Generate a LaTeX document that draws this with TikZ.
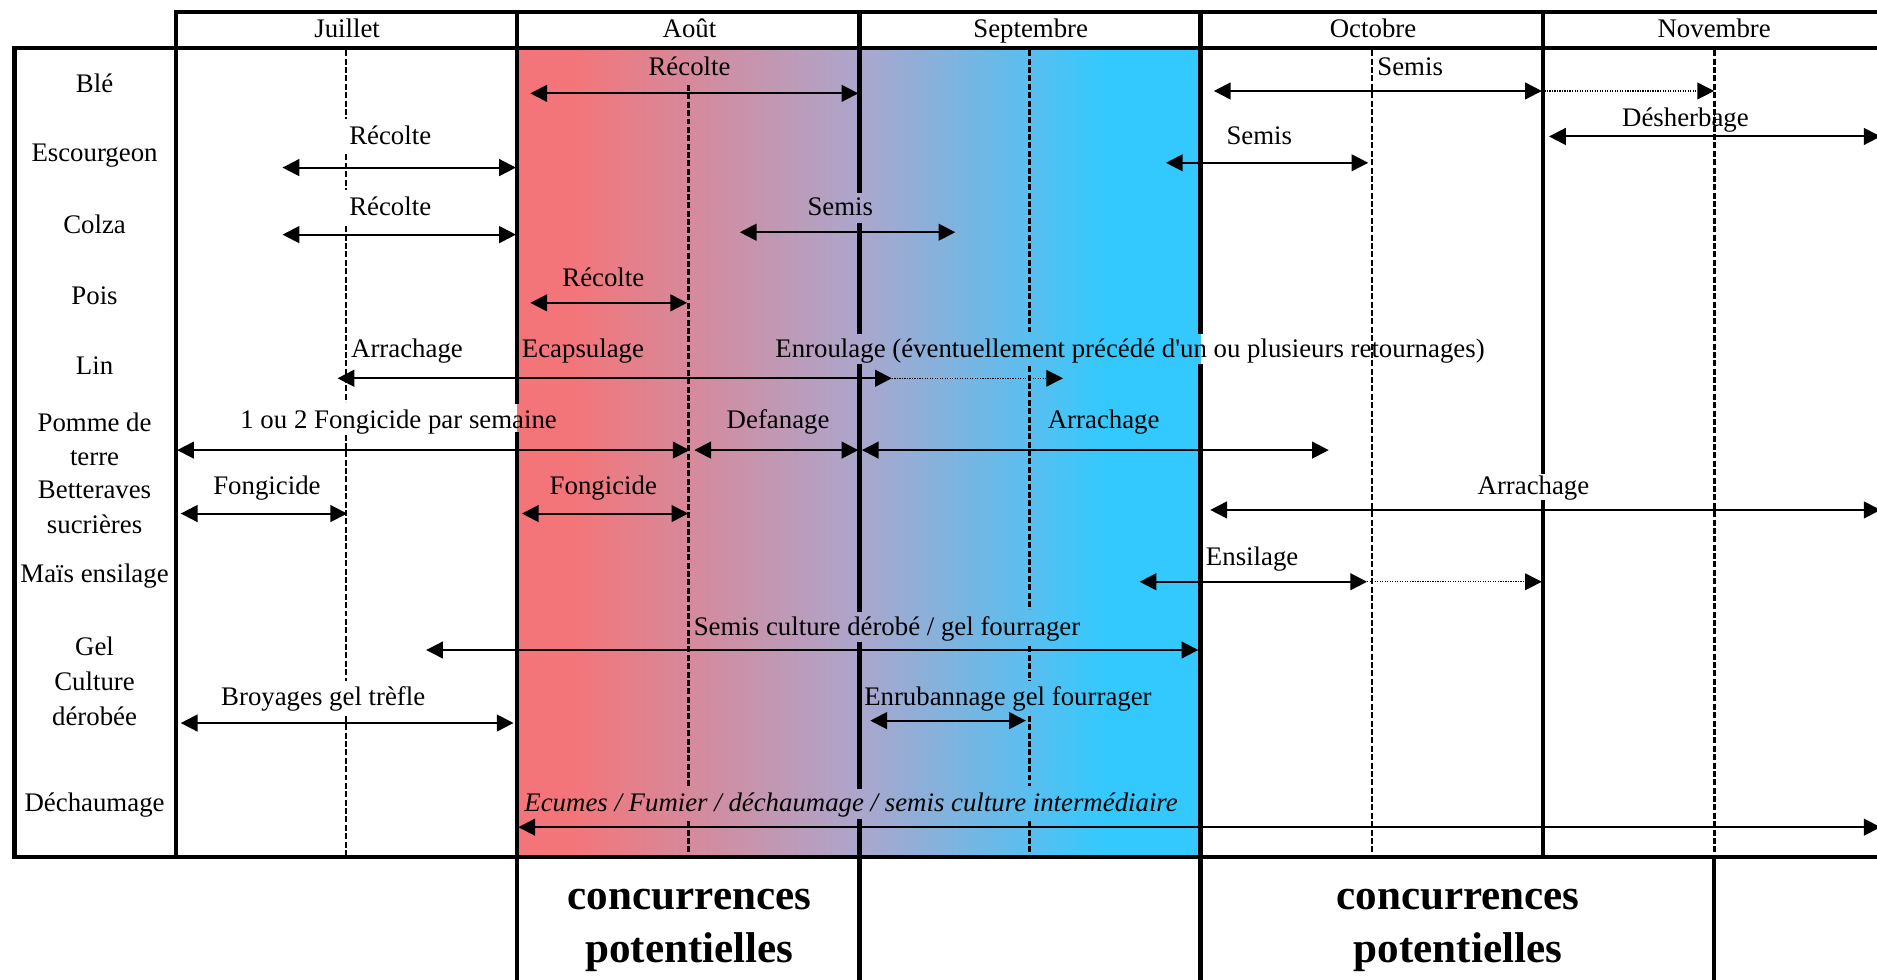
\documentclass[tikz,border=0pt]{standalone}
\usepackage{fontspec}
\setmainfont{Liberation Serif}
\usepackage{tikz}
\usetikzlibrary{arrows.meta}
\definecolor{aoutred}{RGB}{244,117,121}
\definecolor{septmauve}{RGB}{172,166,204}
\definecolor{octcyan}{RGB}{52,201,254}
\pgfdeclarehorizontalshading{concur}{100bp}{color(0bp)=(aoutred); color(29bp)=(aoutred); color(50bp)=(septmauve); color(68bp)=(octcyan); color(100bp)=(octcyan)}

\begin{document}
\begin{tikzpicture}[x=1pt, y=-1pt,
  lbl/.style={font=\fontsize{22.4}{29}\selectfont, inner sep=0pt, text height=15pt, text depth=5pt},
  row/.style={font=\fontsize{22.4}{29}\selectfont, inner sep=0pt, align=center},
  big/.style={font=\fontsize{36}{44}\selectfont\bfseries, inner sep=0pt, align=center},
  bord/.style={line width=3.8pt, line cap=rect},
  mi/.style={line width=2.2pt, dash pattern=on 5pt off 2pt},
  arr/.style={line width=1.7pt, {Triangle[length=14pt,width=14pt]}-{Triangle[length=14pt,width=14pt]}},
  suite/.style={line width=1pt, dash pattern=on 1pt off 1.1pt, -{Triangle[length=14pt,width=14pt]}}]
\useasboundingbox (0,0) rectangle (1568,818);
% periode des concurrences
\fill[shading=concur] (432,40) rectangle (1003,716);
% grille
\draw[line width=3.2pt] (147,10) -- (1572,10);
\draw[bord] (12,40) -- (1572,40); \draw[bord] (12,716) -- (1572,716);
\draw[bord] (12,40) -- (12,716) (147,10) -- (147,716);
\draw[bord] (432,10) -- (432,336) (432,363) -- (432,818);
\draw[bord] (718,10) -- (718,159) (718,188) -- (718,277) (718,306) -- (718,509) (718,538) -- (718,657) (718,686) -- (718,818);
\draw[bord] (1003,10) -- (1003,277) (1003,306) -- (1003,818);
\draw[bord] (1289,10) -- (1289,394) (1289,420) -- (1289,716);
\draw[bord] (1432,716) -- (1432,818);
\draw[mi] (289,42) -- (289,99) (289,129) -- (289,159) (289,189) -- (289,336) (289,363) -- (289,569) (289,598) -- (289,716);
\draw[mi] (575,71) -- (575,657) (575,686) -- (575,716);
\draw[mi] (860,42) -- (860,277) (860,306) -- (860,509) (860,540) -- (860,569) (860,598) -- (860,657) (860,686) -- (860,716);
\draw[mi] (1146,42) -- (1146,716);
\draw[mi] (1432,42) -- (1432,716);
% mois
\node[lbl] (juil) at (290,26) {Juillet};
\node[lbl] (aout) at (576,26) {Août};
\node[lbl] (sept) at (861,26) {Septembre};
\node[lbl] (oct) at (1147,26) {Octobre};
\node[lbl] (nov) at (1432,26) {Novembre};
% cultures
\node[lbl] (ble) at (79,72) {Blé};
\node[lbl] (esc) at (79,130) {Escourgeon};
\node[lbl] (colza) at (79,190) {Colza};
\node[lbl] (pois) at (79,249) {Pois};
\node[lbl] (lin) at (79,308) {Lin};
\node[row] (pdt) at (79,367) {Pomme de\\terre};
\node[row] (bett) at (79,424) {Betteraves\\sucrières};
\node[lbl] (mais) at (79,482) {Maïs ensilage};
\node[row] (gel) at (79,569) {Gel\\Culture\\dérobée};
\node[lbl] (dech) at (79,673) {Déchaumage};
% Blé
\coordinate (bleR1) at (443,78); \coordinate (bleR2) at (717,78);
\coordinate (bleS1) at (1014,76); \coordinate (bleS2) at (1288,76); \coordinate (bleS3) at (1432,76);
\draw[arr] (bleR1) -- (bleR2); \draw[arr] (bleS1) -- (bleS2); \draw[suite] (bleS2) -- (bleS3);
\node[lbl] (bleRt) at (576,58) {Récolte};
\node[lbl] (bleSt) at (1178,58) {Semis};
% Escourgeon
\coordinate (escR1) at (236,140); \coordinate (escR2) at (431,140);
\coordinate (escS1) at (974,136); \coordinate (escS2) at (1143,136);
\coordinate (escD1) at (1294,114); \coordinate (escD2) at (1571,114);
\draw[arr] (escR1) -- (escR2); \draw[arr] (escS1) -- (escS2); \draw[arr] (escD1) -- (escD2);
\node[lbl] (escRt) at (326,116) {Récolte};
\node[lbl] (escSt) at (1052,116) {Semis};
\node[lbl] (escDt) at (1408,101) {Désherbage};
% Colza
\coordinate (colR1) at (236,196); \coordinate (colR2) at (431,196);
\coordinate (colS1) at (618,194); \coordinate (colS2) at (798,194);
\draw[arr] (colR1) -- (colR2); \draw[arr] (colS1) -- (colS2);
\node[lbl] (colRt) at (326,175) {Récolte};
\node[lbl] (colSt) at (702,175) {Semis};
% Pois
\coordinate (poisR1) at (443,253); \coordinate (poisR2) at (574,253);
\draw[arr] (poisR1) -- (poisR2);
\node[lbl] (poisRt) at (504,234) {Récolte};
% Lin
\coordinate (linA1) at (282,316); \coordinate (linA2) at (745,316); \coordinate (linA3) at (888,316);
\draw[arr] (linA1) -- (linA2); \draw[suite] (linA2) -- (linA3);
\node[lbl] (linAt) at (340,294) {Arrachage};
\node[lbl] (linCt) at (487,294) {Ecapsulage};
\node[lbl] (linEt) at (944,294) {Enroulage (éventuellement précédé d\textquotesingle un ou plusieurs retournages)};
% Pomme de terre
\coordinate (pdtF1) at (148,376); \coordinate (pdtF2) at (576,376);
\coordinate (pdtD1) at (580,376); \coordinate (pdtD2) at (717,376);
\coordinate (pdtA1) at (720,376); \coordinate (pdtA2) at (1110,376);
\draw[arr] (pdtF1) -- (pdtF2); \draw[arr] (pdtD1) -- (pdtD2); \draw[arr] (pdtA1) -- (pdtA2);
\node[lbl] (pdtFt) at (333,353) {1 ou 2 Fongicide par semaine};
\node[lbl] (pdtDt) at (650,353) {Defanage};
\node[lbl] (pdtAt) at (922,353) {Arrachage};
% Betteraves
\coordinate (betF1) at (151,429); \coordinate (betF2) at (290,429);
\coordinate (betG1) at (436,429); \coordinate (betG2) at (575,429);
\coordinate (betA1) at (1011,426); \coordinate (betA2) at (1571,426);
\draw[arr] (betF1) -- (betF2); \draw[arr] (betG1) -- (betG2); \draw[arr] (betA1) -- (betA2);
\node[lbl] (betFt) at (223,408) {Fongicide};
\node[lbl] (betGt) at (504,408) {Fongicide};
\node[lbl] (betAt) at (1281,408) {Arrachage};
% Mais
\coordinate (maisE1) at (952,486); \coordinate (maisE2) at (1142,486); \coordinate (maisE3) at (1288,486);
\draw[arr] (maisE1) -- (maisE2); \draw[suite] (maisE2) -- (maisE3);
\node[lbl] (maisEt) at (1046,467) {Ensilage};
% Gel / culture derobee
\coordinate (gelS1) at (356,543); \coordinate (gelS2) at (1001,543);
\coordinate (gelB1) at (151,604); \coordinate (gelB2) at (429,604);
\coordinate (gelE1) at (727,602); \coordinate (gelE2) at (857,602);
\draw[arr] (gelS1) -- (gelS2); \draw[arr] (gelB1) -- (gelB2); \draw[arr] (gelE1) -- (gelE2);
\node[lbl] (gelSt) at (741,526) {Semis culture dérobé / gel fourrager};
\node[lbl] (gelBt) at (270,584) {Broyages gel trèfle};
\node[lbl] (gelEt) at (842,584) {Enrubannage gel fourrager};
% Dechaumage
\coordinate (dechE1) at (433,691); \coordinate (dechE2) at (1571,691);
\draw[arr] (dechE1) -- (dechE2);
\node[lbl, font=\fontsize{22.4}{29}\selectfont\itshape] (dechEt) at (711,673) {Ecumes / Fumier / déchaumage / semis culture intermédiaire};
% concurrences
\node[big] (conc1) at (576,777) {concurrences\\potentielles};
\node[big] (conc2) at (1218,777) {concurrences\\potentielles};
\end{tikzpicture}
\end{document}
